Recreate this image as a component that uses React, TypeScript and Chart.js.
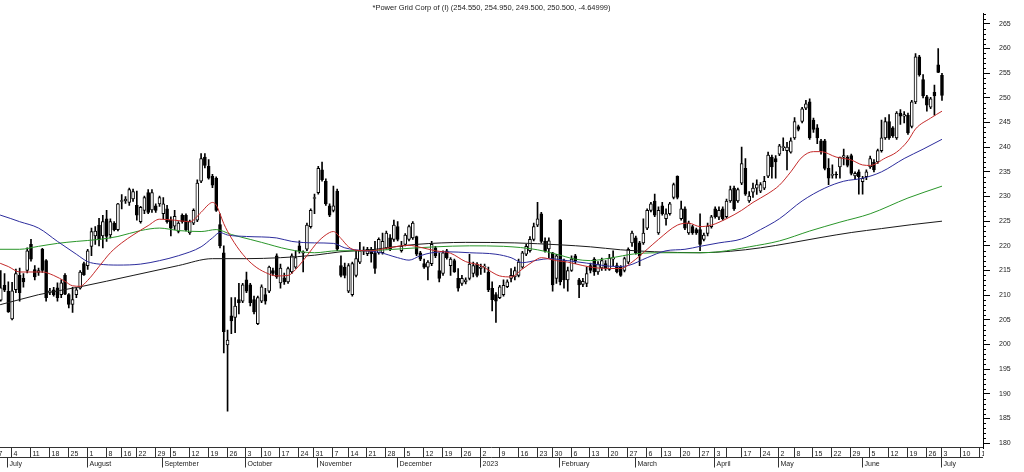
import React, { useEffect, useRef } from 'react';
import { Chart, registerables } from 'chart.js';

Chart.register(...registerables);

const titleText = '*Power Grid Corp of (I) (254.550, 254.950, 249.500, 250.500, -4.64999)';
const firstDate = '2022-06-27';
const holidays = [
  '2022-08-09', '2022-08-15', '2022-08-31', '2022-10-05', '2022-10-26', '2022-11-08',
  '2023-01-26', '2023-03-07', '2023-03-30', '2023-04-04', '2023-04-07', '2023-04-14',
  '2023-05-01', '2023-06-29',
];
const hiddenWeekLabels = ['2023-04-10'];
const monthNames = ['January', 'February', 'March', 'April', 'May', 'June', 'July', 'August', 'September', 'October', 'November', 'December'];
const yTickValues = [180, 185, 190, 195, 200, 205, 210, 215, 220, 225, 230, 235, 240, 245, 250, 255, 260, 265];

// [open, high, low, close] per trading day
const candles: number[][] = [
  [212.0, 214.0, 209.5, 210.5], [210.5, 213.0, 208.5, 212.0], [209.0, 215.0, 208.8, 211.5], [212.0, 214.4, 210.7, 211.0],
  [210.8, 212.7, 206.5, 206.6], [205.2, 212.6, 205.0, 210.9], [211.1, 215.3, 210.5, 214.4], [214.0, 215.5, 208.8, 210.5],
  [213.4, 214.4, 211.6, 212.7], [215.0, 219.6, 214.5, 219.0], [220.3, 221.3, 216.9, 217.3], [215.2, 216.0, 213.1, 213.7],
  [214.6, 215.5, 214.0, 215.0], [219.3, 219.5, 214.6, 215.0], [217.0, 217.2, 208.8, 209.5], [210.7, 211.4, 210.1, 210.9],
  [211.1, 211.6, 209.8, 210.1], [211.5, 212.5, 208.8, 209.5], [210.1, 213.1, 209.5, 212.5], [214.0, 214.4, 210.1, 210.2],
  [210.1, 210.3, 207.4, 208.1], [208.1, 211.6, 206.5, 209.1], [210.1, 211.4, 209.5, 211.1], [211.4, 215.0, 211.2, 214.7],
  [216.4, 216.7, 214.0, 214.1], [216.0, 219.3, 215.2, 219.0], [219.9, 223.6, 218.0, 222.9], [222.0, 223.9, 220.3, 223.0],
  [224.2, 225.6, 220.0, 221.3], [222.0, 226.2, 219.6, 224.9], [225.5, 227.2, 220.9, 221.9], [222.2, 225.5, 221.6, 224.9],
  [224.6, 224.9, 223.0, 223.3], [223.3, 228.6, 223.0, 228.5], [229.0, 230.4, 227.5, 229.2], [229.1, 230.0, 228.6, 229.5],
  [228.8, 231.7, 228.2, 231.4], [229.5, 231.5, 229.0, 231.0], [228.2, 231.1, 225.2, 226.2], [224.9, 228.0, 224.6, 227.8],
  [227.2, 230.1, 226.5, 229.8], [230.8, 231.4, 226.5, 226.8], [227.3, 231.4, 226.8, 230.8], [228.1, 228.5, 226.8, 227.2],
  [228.5, 230.1, 228.0, 229.8], [226.5, 229.8, 225.5, 228.5], [227.5, 228.2, 224.6, 224.9], [225.2, 225.9, 222.0, 223.6],
  [224.0, 227.2, 223.3, 226.0], [222.9, 224.9, 222.6, 224.6], [226.2, 226.5, 224.6, 224.9], [226.2, 226.5, 223.0, 223.3],
  [222.6, 225.2, 222.3, 224.9], [224.6, 227.5, 224.3, 227.2], [225.2, 233.4, 224.9, 232.7], [233.1, 238.7, 232.8, 237.7],
  [238.0, 238.7, 235.8, 236.3], [236.1, 237.5, 233.5, 233.7], [234.1, 234.5, 231.8, 232.3], [233.7, 234.0, 227.0, 227.2],
  [224.3, 226.5, 219.6, 220.0], [218.6, 220.0, 198.3, 202.6], [199.9, 202.9, 186.5, 200.9], [205.8, 209.5, 202.2, 204.8],
  [205.5, 209.5, 202.4, 207.8], [209.1, 212.4, 206.2, 208.5], [208.8, 212.4, 208.5, 212.1], [213.1, 214.7, 210.5, 210.8],
  [212.1, 212.4, 207.8, 208.5], [209.1, 209.8, 206.2, 206.6], [204.2, 209.8, 204.0, 209.5], [208.8, 212.1, 208.5, 211.7],
  [210.1, 211.4, 208.2, 208.8], [210.8, 215.9, 210.5, 215.7], [215.0, 215.5, 214.0, 214.4], [218.0, 218.4, 213.4, 213.7],
  [212.5, 216.3, 211.4, 215.5], [213.5, 214.5, 212.2, 212.7], [212.7, 215.7, 212.4, 215.4], [214.7, 218.4, 214.4, 218.0],
  [215.7, 219.0, 215.4, 217.6], [220.0, 221.0, 218.5, 219.0], [218.5, 219.0, 214.7, 218.7], [219.3, 224.6, 219.0, 224.2],
  [223.9, 227.5, 223.6, 227.2], [229.6, 230.5, 226.5, 229.8], [230.8, 236.1, 230.5, 235.7], [235.4, 237.0, 233.1, 233.4],
  [233.1, 233.6, 228.2, 228.5], [228.1, 228.5, 225.9, 226.2], [227.2, 232.1, 226.9, 228.1], [231.1, 231.5, 219.0, 219.3],
  [216.0, 218.0, 213.7, 214.0], [215.7, 216.5, 213.5, 214.0], [210.8, 216.4, 210.5, 216.0], [210.1, 216.7, 209.8, 216.4],
  [214.0, 219.0, 213.7, 217.4], [216.7, 220.7, 216.4, 219.0], [218.9, 219.8, 218.2, 219.1], [218.4, 219.7, 218.0, 219.3],
  [219.3, 219.7, 216.7, 218.4], [218.6, 220.9, 214.4, 215.4], [218.6, 221.6, 218.3, 221.3], [218.6, 222.6, 218.3, 220.9],
  [219.6, 223.0, 219.3, 222.6], [221.6, 222.3, 219.0, 219.3], [221.3, 225.2, 220.9, 224.2], [223.9, 224.9, 221.0, 221.3],
  [219.0, 220.9, 218.7, 219.9], [220.3, 222.5, 220.0, 222.2], [221.3, 224.2, 221.0, 223.9], [221.6, 224.9, 221.3, 224.6],
  [221.9, 222.0, 218.0, 218.3], [218.6, 218.9, 217.0, 217.3], [216.4, 217.3, 215.4, 215.7], [215.7, 217.0, 213.1, 216.7],
  [216.4, 220.9, 216.0, 220.3], [219.6, 219.9, 217.6, 218.0], [215.0, 218.6, 212.7, 213.4], [214.4, 219.0, 214.0, 218.6],
  [219.0, 219.3, 217.3, 217.6], [216.0, 217.6, 214.0, 217.3], [217.0, 217.3, 214.6, 214.7], [213.4, 215.4, 210.8, 211.4],
  [212.4, 214.0, 212.0, 213.4], [212.7, 213.5, 212.3, 213.1], [213.4, 218.3, 213.1, 216.3], [214.4, 216.7, 213.7, 216.0],
  [216.3, 216.6, 213.7, 214.0], [215.4, 216.3, 214.2, 215.7], [215.7, 216.3, 214.6, 215.9], [214.7, 215.7, 210.7, 211.1],
  [211.4, 212.7, 206.8, 209.1], [210.1, 210.5, 204.5, 208.8], [209.5, 212.0, 209.3, 211.7], [210.1, 213.1, 209.8, 212.0],
  [211.7, 213.1, 211.5, 212.7], [213.4, 215.4, 212.7, 214.0], [213.7, 215.7, 213.1, 215.0], [214.0, 217.3, 213.7, 216.7],
  [215.7, 218.9, 215.4, 218.6], [218.3, 220.3, 218.0, 219.9], [219.0, 221.9, 218.7, 221.3], [221.3, 224.6, 221.0, 223.9],
  [224.2, 228.8, 223.9, 225.5], [226.5, 226.8, 220.6, 220.9], [220.9, 221.6, 218.7, 219.0], [219.4, 221.6, 217.6, 221.0],
  [218.6, 218.7, 210.8, 212.1], [213.4, 218.3, 212.4, 218.0], [225.2, 225.3, 212.1, 212.7], [217.0, 217.3, 211.4, 213.1],
  [213.1, 215.7, 210.8, 215.0], [215.0, 218.0, 214.8, 217.3], [218.0, 218.3, 216.4, 217.0], [213.1, 213.4, 209.5, 212.1],
  [212.2, 213.4, 211.7, 212.8], [212.4, 215.7, 211.7, 214.4], [216.0, 216.5, 214.5, 215.0], [217.3, 217.6, 214.0, 214.7],
  [214.7, 216.8, 214.2, 216.3], [215.5, 217.5, 215.0, 217.0], [216.4, 217.0, 215.0, 215.4], [215.2, 218.3, 215.0, 217.5],
  [217.3, 219.0, 216.0, 217.6], [216.0, 216.5, 214.5, 214.7], [215.7, 216.0, 213.8, 214.0], [215.0, 217.7, 214.7, 217.4],
  [216.7, 219.6, 216.4, 219.3], [220.6, 223.0, 219.9, 222.6], [221.6, 222.0, 218.3, 218.6], [220.6, 220.9, 216.0, 218.0],
  [220.6, 225.5, 220.3, 222.6], [223.6, 227.5, 223.3, 227.2], [227.2, 228.8, 226.9, 228.5], [229.1, 230.5, 225.9, 226.2],
  [222.6, 227.9, 222.3, 227.2], [228.1, 228.8, 226.2, 226.5], [225.5, 227.5, 224.2, 226.5], [226.5, 228.8, 226.2, 228.5],
  [229.8, 232.7, 229.5, 232.4], [234.1, 234.2, 229.5, 229.8], [225.5, 229.1, 225.2, 227.5], [227.5, 227.9, 223.3, 223.6],
  [222.6, 225.0, 222.3, 224.6], [223.9, 224.2, 222.3, 222.6], [223.3, 223.6, 222.3, 222.6], [223.3, 226.5, 219.0, 220.3],
  [221.3, 222.6, 221.0, 222.2], [222.5, 224.6, 222.0, 224.0], [223.9, 226.2, 223.6, 225.9], [227.5, 227.9, 225.6, 225.9],
  [225.8, 227.9, 225.3, 227.2], [227.5, 227.9, 225.2, 225.5], [225.9, 229.5, 225.6, 229.1], [229.1, 232.1, 228.8, 231.4],
  [231.7, 232.1, 227.2, 227.5], [229.1, 231.7, 228.8, 231.4], [232.7, 240.0, 232.4, 236.7], [235.7, 237.7, 230.2, 230.5],
  [229.1, 231.0, 228.8, 230.1], [230.9, 232.7, 229.8, 231.7], [231.7, 233.4, 230.4, 232.4], [231.1, 232.8, 230.8, 232.4],
  [231.7, 234.1, 231.4, 233.1], [234.1, 239.0, 233.8, 238.4], [238.0, 238.4, 233.7, 236.0], [237.7, 238.3, 233.7, 237.0],
  [238.6, 240.6, 238.3, 240.3], [239.9, 241.9, 239.3, 240.1], [239.3, 241.0, 235.4, 240.0], [239.0, 241.9, 238.8, 241.3],
  [241.9, 246.0, 241.6, 245.2], [244.2, 244.5, 243.3, 243.6], [245.2, 248.1, 244.9, 247.8], [247.9, 249.5, 247.6, 248.8],
  [249.2, 249.8, 241.6, 241.9], [245.5, 245.9, 243.0, 243.6], [243.9, 244.6, 240.7, 241.9], [241.3, 241.6, 238.6, 239.3],
  [241.3, 241.6, 235.4, 235.7], [235.7, 237.7, 232.4, 233.7], [234.3, 236.4, 233.7, 234.5], [234.5, 235.0, 233.7, 234.4],
  [236.0, 238.0, 233.7, 238.0], [238.0, 239.6, 236.4, 238.3], [238.0, 238.3, 236.0, 236.3], [238.3, 238.6, 234.4, 234.7],
  [234.2, 235.0, 233.5, 234.7], [235.0, 235.4, 230.5, 234.0], [233.0, 234.1, 230.5, 233.7], [234.0, 235.4, 233.4, 235.0],
  [236.0, 238.2, 235.7, 237.7], [237.0, 237.5, 235.0, 235.4], [237.0, 239.6, 236.7, 239.3], [239.3, 245.5, 239.0, 241.9],
  [241.9, 246.0, 241.6, 245.2], [245.2, 246.6, 241.6, 241.9], [243.9, 244.2, 242.0, 242.3], [241.9, 247.2, 241.6, 246.9],
  [246.9, 247.6, 244.6, 246.3], [246.3, 247.2, 244.9, 246.6], [246.5, 246.9, 242.6, 242.9], [244.2, 249.5, 243.9, 249.2],
  [249.2, 259.0, 248.8, 258.3], [258.3, 258.6, 254.4, 254.7], [253.7, 254.7, 250.0, 250.4], [250.2, 250.5, 247.3, 248.5],
  [248.1, 250.1, 247.8, 249.8], [251.1, 252.6, 246.5, 250.4], [256.7, 260.0, 255.1, 255.15], [254.55, 254.95, 249.5, 250.5],
];

// moving averages: [trading-day index, value]
const redMA = [[0,217.0],[4,215.8],[7,214.7],[10,214.7],[13,214.7],[16,214.0],[19,212.8],[21,211.9],[23,211.8],[25,213.0],[28,215.8],[31,218.6],[34,220.6],[37,222.2],[41,224.1],[44,225.4],[48,225.2],[52,224.9],[55,226.8],[57,228.4],[58,228.8],[59,228.3],[60,226.5],[61,224.5],[63,221.6],[66,218.3],[69,216.0],[72,214.6],[75,213.9],[78,214.0],[80,215.2],[83,218.0],[86,220.9],[89,222.7],[90,222.9],[92,221.5],[94,219.8],[96,219.1],[100,219.0],[104,219.5],[110,220.1],[113,219.7],[117,219.0],[121,218.5],[125,216.8],[129,216.0],[131,215.1],[134,213.9],[137,213.7],[140,215.3],[143,216.9],[145,217.6],[149,217.0],[152,216.7],[156,216.0],[160,215.5],[166,215.4],[169,216.7],[173,219.3],[176,221.3],[181,224.2],[184,224.6],[187,223.9],[190,224.2],[194,225.5],[198,227.2],[201,228.8],[205,230.6],[208,232.3],[211,235.0],[214,238.0],[217,239.1],[219,239.1],[223,238.0],[227,237.4],[230,236.4],[232,236.3],[236,237.8],[239,239.0],[242,241.3],[244,243.7],[248,245.9],[251,247.3]];
const blueMA = [[0,226.6],[2,226.2],[7,224.9],[12,223.6],[17,220.9],[22,218.3],[25,216.8],[28,216.3],[33,216.1],[39,216.3],[44,217.0],[49,218.0],[55,219.8],[58,221.6],[60,222.7],[62,222.2],[67,221.9],[75,221.6],[79,220.9],[85,220.6],[90,220.5],[93,219.6],[98,219.0],[102,218.7],[107,217.6],[110,217.1],[113,218.0],[116,218.6],[120,218.8],[126,218.6],[133,218.3],[137,217.6],[140,216.6],[144,217.1],[147,217.4],[152,217.0],[157,216.5],[165,215.8],[168,216.0],[173,217.6],[178,219.0],[183,219.3],[187,219.9],[192,220.6],[198,221.4],[203,223.3],[208,225.5],[214,229.1],[220,231.7],[225,233.1],[230,233.7],[235,235.0],[241,237.7],[246,239.6],[251,241.6]];
const greenMA = [[0,219.3],[7,219.3],[12,219.9],[17,220.5],[22,220.9],[28,221.3],[33,221.9],[39,223.1],[44,223.6],[49,223.1],[55,222.9],[59,223.3],[63,222.3],[68,221.3],[71,220.7],[78,219.3],[85,218.6],[91,219.0],[98,219.0],[102,219.1],[108,219.4],[117,219.8],[126,220.0],[135,219.9],[144,219.2],[149,218.3],[154,217.3],[158,217.0],[163,217.5],[170,218.4],[178,218.6],[187,218.6],[192,218.8],[200,219.8],[208,221.0],[216,223.0],[224,224.8],[232,226.5],[242,229.7],[251,232.1]];
const blackMA = [[0,207.8],[2,208.1],[12,210.1],[23,211.7],[37,214.0],[49,216.0],[58,217.4],[67,217.4],[76,217.6],[85,218.1],[92,218.8],[100,219.2],[106,219.8],[112,220.3],[125,220.7],[138,220.6],[150,220.2],[158,219.8],[166,219.2],[175,218.8],[187,218.6],[195,218.9],[203,219.6],[211,220.6],[219,221.7],[227,222.7],[235,223.5],[243,224.3],[251,225.0]];

const FONT = '"Liberation Sans", Arial, sans-serif';

function buildTradingDays(count: number): Date[] {
  const out: Date[] = [];
  const [y, m, d] = firstDate.split('-').map(Number);
  let t = Date.UTC(y, m - 1, d);
  const hol = new Set(holidays);
  while (out.length < count) {
    const dt = new Date(t);
    const wd = dt.getUTCDay();
    const key = dt.toISOString().slice(0, 10);
    if (wd !== 0 && wd !== 6 && !hol.has(key)) out.push(dt);
    t += 86400000;
  }
  return out;
}

const days = buildTradingDays(266);

const weekKey = (dt: Date) => Math.floor((dt.getTime() / 86400000 + 3) / 7);

const titlePlugin = {
  id: 'titleText',
  afterDraw(chart: any) {
    const { ctx, chartArea } = chart;
    ctx.save();
    ctx.font = `7.5px ${FONT}`;
    ctx.fillStyle = '#222';
    ctx.textAlign = 'center';
    ctx.textBaseline = 'middle';
    ctx.fillText(titleText, (chartArea.left + chartArea.right) / 2, 7.5);
    ctx.restore();
  },
};

const minorTickPlugin = {
  id: 'minorTicks',
  afterDraw(chart: any) {
    const { ctx, chartArea } = chart;
    const ys = chart.scales.y;
    ctx.save();
    ctx.strokeStyle = '#000';
    ctx.lineWidth = 1;
    ctx.beginPath();
    for (let v = Math.ceil(ys.min); v <= Math.floor(ys.max); v++) {
      if (v % 5 === 0) continue;
      const py = Math.round(ys.getPixelForValue(v)) + 0.5;
      ctx.moveTo(chartArea.right, py);
      ctx.lineTo(chartArea.right + 3, py);
    }
    ctx.stroke();
    ctx.restore();
  },
};

const dateAxisPlugin = {
  id: 'dateAxis',
  afterDraw(chart: any) {
    const { ctx, chartArea } = chart;
    const xs = chart.scales.x;
    const right = chartArea.right;
    const top = chartArea.bottom - 0.5;
    const mid = top + 10;
    ctx.save();
    ctx.beginPath();
    ctx.rect(0, top - 1, right + 1, 30);
    ctx.clip();
    ctx.strokeStyle = '#333';
    ctx.lineWidth = 1;
    ctx.beginPath();
    ctx.moveTo(0, top); ctx.lineTo(right, top);
    ctx.moveTo(0, mid); ctx.lineTo(right, mid);
    ctx.stroke();
    ctx.fillStyle = '#222';
    ctx.font = `7px ${FONT}`;
    ctx.textAlign = 'left';
    ctx.textBaseline = 'alphabetic';
    for (let i = 0; i < days.length; i++) {
      const dt = days[i];
      const prev = i > 0 ? days[i - 1] : null;
      const px = Math.round(xs.getPixelForValue(i)) - 1 + 0.5;
      if (px > right + 4) break;
      if (!prev || weekKey(prev) !== weekKey(dt)) {
        ctx.beginPath();
        ctx.moveTo(px, top); ctx.lineTo(px, mid);
        ctx.stroke();
        const key = dt.toISOString().slice(0, 10);
        if (!hiddenWeekLabels.includes(key)) ctx.fillText(String(dt.getUTCDate()), px + 2, top + 8);
      }
      if (prev && prev.getUTCMonth() !== dt.getUTCMonth()) {
        ctx.beginPath();
        ctx.moveTo(px, mid); ctx.lineTo(px, mid + 10);
        ctx.stroke();
        const m = dt.getUTCMonth();
        const label = m === 0 ? String(dt.getUTCFullYear()) : monthNames[m];
        ctx.fillText(label, px + 2, mid + 8);
      }
    }
    ctx.restore();
  },
};

export default function App() {
  const ref = useRef<HTMLCanvasElement | null>(null);
  useEffect(() => {
    if (!ref.current) return;
    const wicks = candles.map((c, i) => ({ x: i, y: [c[2], c[1]] }));
    const bodies = candles.map((c, i) => ({ x: i, y: [c[0], c[3]] }));
    const bodyColors = candles.map((c) => (c[3] >= c[0] ? '#ffffff' : '#000000'));
    const toPts = (arr: number[][]) => arr.map((p) => ({ x: p[0], y: p[1] }));
    const lineDs = (label: string, arr: number[][], color: string) => ({
      type: 'line' as const,
      label,
      data: toPts(arr),
      borderColor: color,
      borderWidth: 1,
      pointRadius: 0,
      fill: false,
      cubicInterpolationMode: 'monotone' as const,
      order: 1,
    });
    const chart = new Chart(ref.current, {
      type: 'bar',
      data: {
        datasets: [
          lineDs('red', redMA, '#c42a2a'),
          lineDs('blue', blueMA, '#2c2c9c'),
          lineDs('green', greenMA, '#2a962a'),
          lineDs('black', blackMA, '#1a1a1a'),
          {
            type: 'bar',
            label: 'bodies',
            data: bodies as any,
            backgroundColor: bodyColors,
            borderColor: '#000',
            borderWidth: 1,
            borderSkipped: false,
            barThickness: 3,
            grouped: false,
            order: 2,
          } as any,
          {
            type: 'bar',
            label: 'wicks',
            data: wicks as any,
            backgroundColor: '#000',
            borderWidth: 0,
            barThickness: 1,
            grouped: false,
            order: 3,
          } as any,
        ],
      },
      options: {
        responsive: false,
        animation: false,
        devicePixelRatio: 1,
        events: [],
        layout: { padding: { left: 0, right: 0, top: 0, bottom: 24 } },
        plugins: { legend: { display: false }, tooltip: { enabled: false }, title: { display: false } },
        scales: {
          x: {
            type: 'linear',
            display: false,
            offset: false,
            min: 1.8,
            max: 261.85,
          },
          y: {
            type: 'linear',
            position: 'right',
            min: 179.016,
            max: 267.164,
            afterBuildTicks: (scale: any) => {
              scale.ticks = yTickValues.map((v) => ({ value: v }));
            },
            afterFit: (scale: any) => {
              scale.width = 41;
            },
            grid: { drawOnChartArea: false, drawTicks: true, tickLength: 7, color: '#000' },
            border: { display: true, color: '#000', width: 1 },
            ticks: {
              autoSkip: false,
              padding: 9,
              color: '#222',
              font: { family: FONT, size: 7 },
              callback: (v: any) => String(v),
            },
          },
        },
      },
      plugins: [titlePlugin, minorTickPlugin, dateAxisPlugin],
    });
    return () => chart.destroy();
  }, []);
  return (
    <div style={{ position: 'absolute', left: 0, top: 0, width: 1024, height: 472, background: '#fff' }}>
      <canvas ref={ref} width={1024} height={472} style={{ display: 'block', width: 1024, height: 472 }} />
    </div>
  );
}
